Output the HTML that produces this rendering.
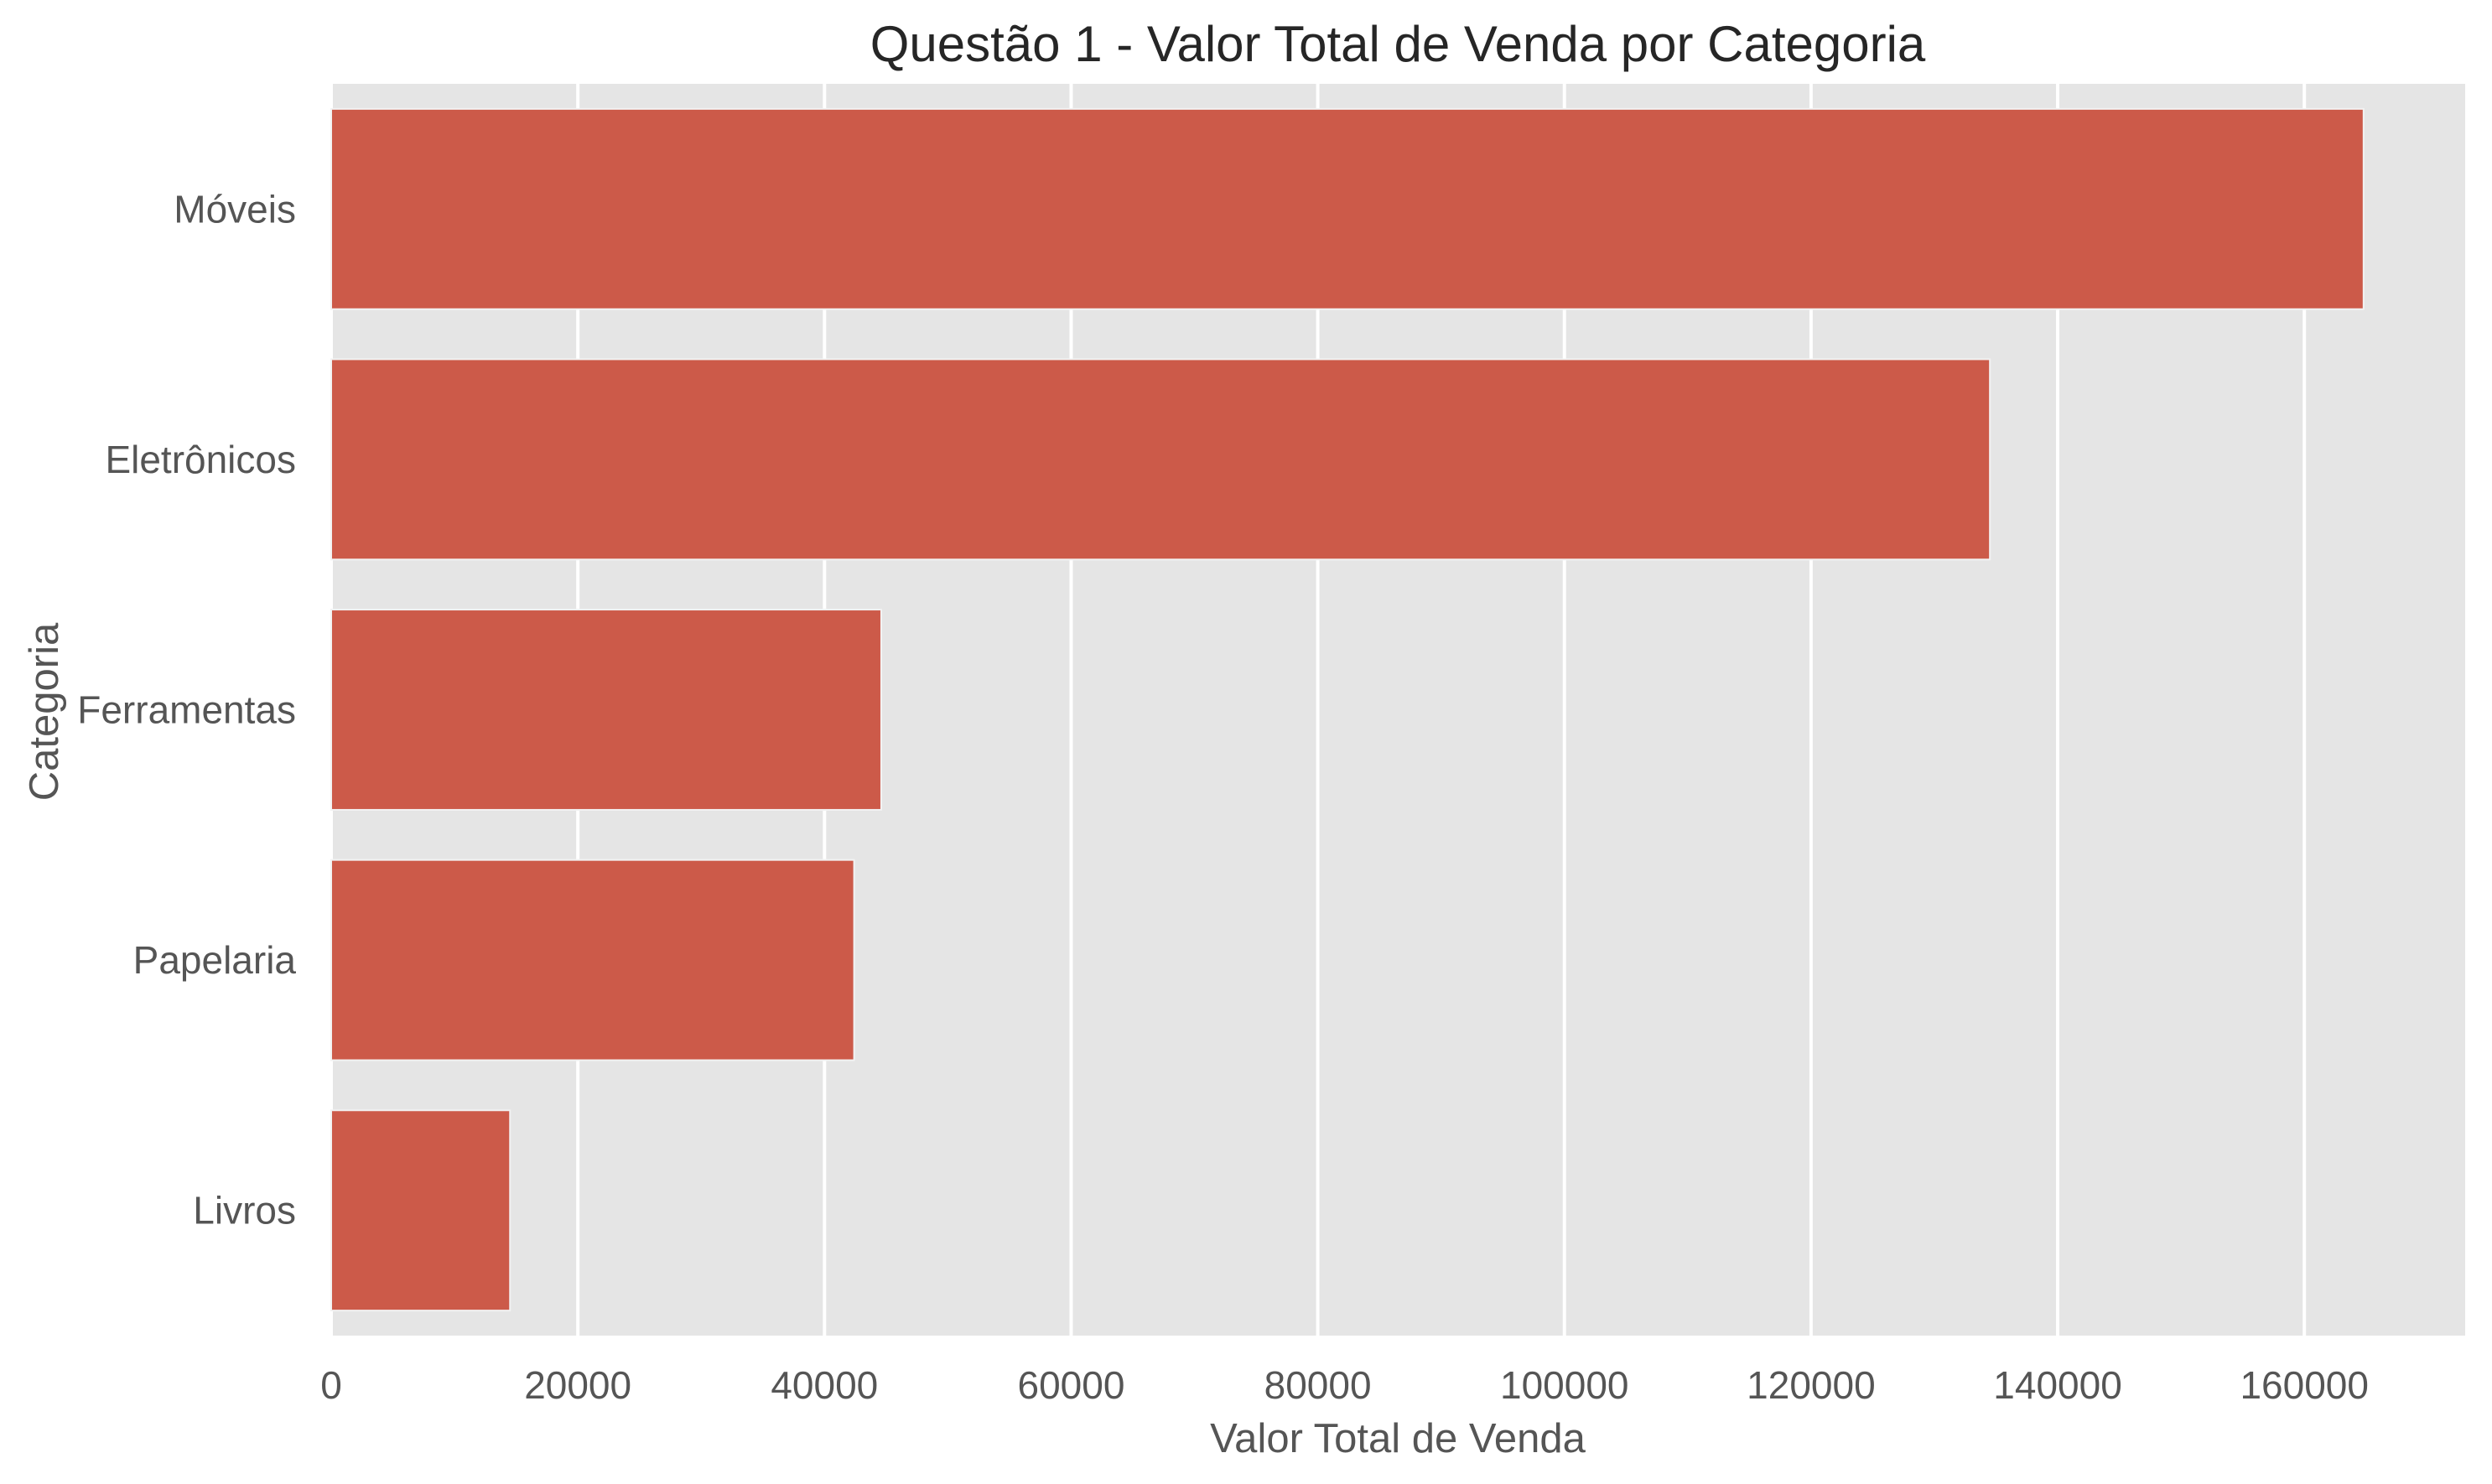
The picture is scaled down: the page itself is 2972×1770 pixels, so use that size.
<!DOCTYPE html>
<html><head><meta charset="utf-8"><style>
html,body{margin:0;padding:0;background:#fff;}
svg{display:block;font-family:"Liberation Sans",Arial,sans-serif;}
</style></head><body>
<svg id="chart" width="2972" height="1770" viewBox="0 0 2972 1770" xmlns="http://www.w3.org/2000/svg">
<rect x="0" y="0" width="2972" height="1770" fill="#ffffff"/>
<rect x="395" y="100" width="2545" height="1493" fill="#e5e5e5"/>
<g id="grid"></g>
<g id="bars"></g>
<g id="xticks"></g>
<g id="yticks"></g>
<text x="1667" y="73" text-anchor="middle" font-size="60" fill="#262626">Questão 1 - Valor Total de Venda por Categoria</text>
<text x="1667" y="1732" text-anchor="middle" font-size="49" fill="#555555">Valor Total de Venda</text>
<text transform="translate(69,849) rotate(-90)" text-anchor="middle" font-size="49" fill="#555555">Categoria</text>
</svg>
<script>
const categories = ["Móveis", "Eletrônicos", "Ferramentas", "Papelaria", "Livros"];
const values = [164800, 134500, 44600, 42400, 14500];
const xTicks = [0, 20000, 40000, 60000, 80000, 100000, 120000, 140000, 160000];
const xTickLabels = ["0", "20000", "40000", "60000", "80000", "100000", "120000", "140000", "160000"];

const NS = "http://www.w3.org/2000/svg";
const plotL = 395, plotR = 2940, plotT = 100, plotB = 1593;
const xMax = Math.max(...values) * 1.05;
function xs(v){ return plotL + (v / xMax) * (plotR - plotL); }
const band = (plotB - plotT) / categories.length;
function ys(i){ return plotT + i * band; }

const grid = document.getElementById('grid');
const xt = document.getElementById('xticks');
xTicks.forEach((t, i) => {
  const x = xs(t);
  const l = document.createElementNS(NS, 'line');
  l.setAttribute('x1', x); l.setAttribute('x2', x);
  l.setAttribute('y1', plotT); l.setAttribute('y2', plotB);
  l.setAttribute('stroke', '#ffffff'); l.setAttribute('stroke-width', '4');
  
  
  grid.appendChild(l);
  const tx = document.createElementNS(NS, 'text');
  tx.setAttribute('x', x); tx.setAttribute('y', 1668);
  tx.setAttribute('text-anchor', 'middle'); tx.setAttribute('font-size', '46');
  tx.setAttribute('fill', '#555555');
  tx.textContent = xTickLabels[i];
  
  
  xt.appendChild(tx);
});

const bars = document.getElementById('bars');
const yt = document.getElementById('yticks');
categories.forEach((c, i) => {
  const y0 = ys(i) + band * 0.1;
  const h = band * 0.8;
  const r = document.createElementNS(NS, 'rect');
  r.setAttribute('x', xs(0)); r.setAttribute('y', y0);
  r.setAttribute('width', xs(values[i]) - xs(0)); r.setAttribute('height', h);
  r.setAttribute('fill', '#cc5a49'); r.setAttribute('stroke', '#f2f2f2'); r.setAttribute('stroke-width', '2');
  
  
  bars.appendChild(r);
  const tx = document.createElementNS(NS, 'text');
  tx.setAttribute('x', 353); tx.setAttribute('y', ys(i) + band / 2 + 16);
  tx.setAttribute('text-anchor', 'end'); tx.setAttribute('font-size', '46');
  tx.setAttribute('fill', '#555555');
  tx.textContent = c;
  
  
  yt.appendChild(tx);
});
</script>
</body></html>
